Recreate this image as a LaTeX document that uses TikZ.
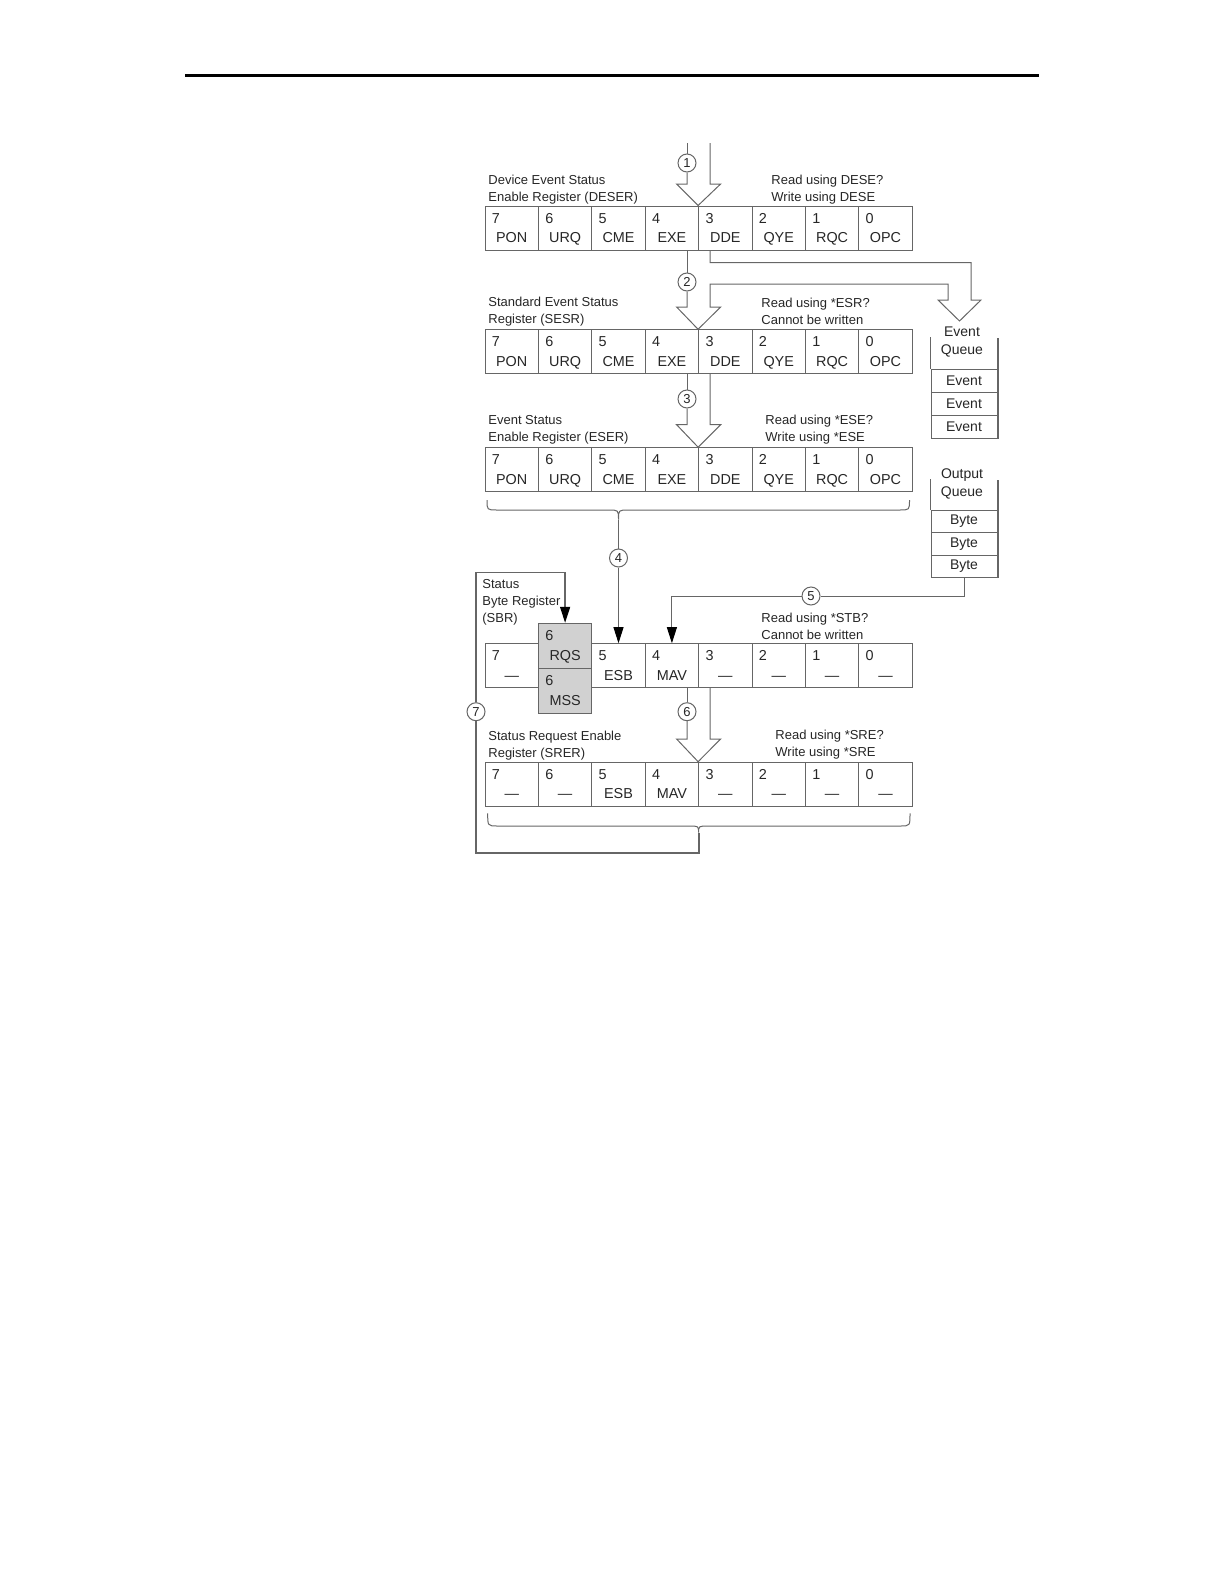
\documentclass[tikz,border=0pt]{standalone}
\usepackage{fontspec}
\setmainfont{Liberation Sans}
\usetikzlibrary{arrows.meta}

\begin{document}
\begin{tikzpicture}[x=0.5pt,y=-0.5pt]
                \tikzstyle{every node}+=[inner sep=0pt, text=black!85]
                \tikzstyle{cell}=[draw=black!60, line width=0.5pt, minimum width=26.7pt, minimum height=22pt, text height=14.7pt, text depth=0pt, font=\fontsize{7.2}{8}\selectfont]
                \tikzstyle{sbit}=[cell, fill=black!18, minimum height=22.5pt]
                \tikzstyle{bitno}=[anchor=north west, xshift=3.5pt, yshift=-3.6pt, font=\fontsize{7.2}{8}\selectfont]
                \tikzstyle{capt}=[anchor=west, align=left, font=\fontsize{6.5}{8.5}\selectfont]
                \tikzstyle{num}=[circle, draw=black!60, line width=0.5pt, fill=white, minimum size=9pt, font=\fontsize{6.5}{7}\selectfont]
                \tikzstyle{qrow}=[draw=black!60, line width=0.5pt, minimum width=33pt, minimum height=11.5pt, font=\fontsize{7}{8}\selectfont]
                \tikzstyle{qhead}=[align=center, font=\fontsize{7}{8.8}\selectfont]
                \tikzstyle{wire}=[draw=black!60, line width=0.5pt]
                \tikzstyle{ptr}=[wire, -{Triangle[length=8pt,width=5pt,color=black]}]
                \useasboundingbox (0,0) rectangle (1224,1584);
                \draw [line width=1.5pt] (185,76) -- (1039,76);
                % DESER
                \node[cell] (de7) at (511.7,228) {PON}; \node[bitno] at (de7.north west) {7};
                \node[cell] (de6) at (565.1,228) {URQ}; \node[bitno] at (de6.north west) {6};
                \node[cell] (de5) at (618.5,228) {CME}; \node[bitno] at (de5.north west) {5};
                \node[cell] (de4) at (671.9,228) {EXE}; \node[bitno] at (de4.north west) {4};
                \node[cell] (de3) at (725.3,228) {DDE}; \node[bitno] at (de3.north west) {3};
                \node[cell] (de2) at (778.7,228) {QYE}; \node[bitno] at (de2.north west) {2};
                \node[cell] (de1) at (832.1,228) {RQC}; \node[bitno] at (de1.north west) {1};
                \node[cell] (de0) at (885.5,228) {OPC}; \node[bitno] at (de0.north west) {0};
                \node[capt] (deserl) at (488,190) {Device Event Status\\Enable Register (DESER)};
                \node[capt] (deserr) at (771,190) {Read using DESE?\\Write using DESE};
                % SESR
                \node[cell] (se7) at (511.7,351.8) {PON}; \node[bitno] at (se7.north west) {7};
                \node[cell] (se6) at (565.1,351.8) {URQ}; \node[bitno] at (se6.north west) {6};
                \node[cell] (se5) at (618.5,351.8) {CME}; \node[bitno] at (se5.north west) {5};
                \node[cell] (se4) at (671.9,351.8) {EXE}; \node[bitno] at (se4.north west) {4};
                \node[cell] (se3) at (725.3,351.8) {DDE}; \node[bitno] at (se3.north west) {3};
                \node[cell] (se2) at (778.7,351.8) {QYE}; \node[bitno] at (se2.north west) {2};
                \node[cell] (se1) at (832.1,351.8) {RQC}; \node[bitno] at (se1.north west) {1};
                \node[cell] (se0) at (885.5,351.8) {OPC}; \node[bitno] at (se0.north west) {0};
                \node[capt] (sesrl) at (488,311.5) {Standard Event Status\\Register (SESR)};
                \node[capt] (sesrr) at (761,311.5) {Read using *ESR?\\Cannot be written};
                % ESER
                \node[cell] (es7) at (511.7,469.7) {PON}; \node[bitno] at (es7.north west) {7};
                \node[cell] (es6) at (565.1,469.7) {URQ}; \node[bitno] at (es6.north west) {6};
                \node[cell] (es5) at (618.5,469.7) {CME}; \node[bitno] at (es5.north west) {5};
                \node[cell] (es4) at (671.9,469.7) {EXE}; \node[bitno] at (es4.north west) {4};
                \node[cell] (es3) at (725.3,469.7) {DDE}; \node[bitno] at (es3.north west) {3};
                \node[cell] (es2) at (778.7,469.7) {QYE}; \node[bitno] at (es2.north west) {2};
                \node[cell] (es1) at (832.1,469.7) {RQC}; \node[bitno] at (es1.north west) {1};
                \node[cell] (es0) at (885.5,469.7) {OPC}; \node[bitno] at (es0.north west) {0};
                \node[capt] (eserl) at (488,430) {Event Status\\Enable Register (ESER)};
                \node[capt] (eserr) at (765,430) {Read using *ESE?\\Write using *ESE};
                % SBR
                \node[cell] (sb7) at (511.7,665.7) {—}; \node[bitno] at (sb7.north west) {7};
                \node[cell] (sb5) at (618.5,665.7) {ESB}; \node[bitno] at (sb5.north west) {5};
                \node[cell] (sb4) at (671.9,665.7) {MAV}; \node[bitno] at (sb4.north west) {4};
                \node[cell] (sb3) at (725.3,665.7) {—}; \node[bitno] at (sb3.north west) {3};
                \node[cell] (sb2) at (778.7,665.7) {—}; \node[bitno] at (sb2.north west) {2};
                \node[cell] (sb1) at (832.1,665.7) {—}; \node[bitno] at (sb1.north west) {1};
                \node[cell] (sb0) at (885.5,665.7) {—}; \node[bitno] at (sb0.north west) {0};
                \node[sbit] (rqs) at (565.1,645.8) {RQS}; \node[bitno] at (rqs.north west) {6};
                \node[sbit] (mss) at (565.1,690.8) {MSS}; \node[bitno] at (mss.north west) {6};
                \node[capt] (sbrl) at (482,602) {Status\\Byte Register\\(SBR)};
                \node[capt] (sbrr) at (761,626.7) {Read using *STB?\\Cannot be written};
                % SRER
                \node[cell] (sr7) at (511.7,784.2) {—}; \node[bitno] at (sr7.north west) {7};
                \node[cell] (sr6) at (565.1,784.2) {—}; \node[bitno] at (sr6.north west) {6};
                \node[cell] (sr5) at (618.5,784.2) {ESB}; \node[bitno] at (sr5.north west) {5};
                \node[cell] (sr4) at (671.9,784.2) {MAV}; \node[bitno] at (sr4.north west) {4};
                \node[cell] (sr3) at (725.3,784.2) {—}; \node[bitno] at (sr3.north west) {3};
                \node[cell] (sr2) at (778.7,784.2) {—}; \node[bitno] at (sr2.north west) {2};
                \node[cell] (sr1) at (832.1,784.2) {—}; \node[bitno] at (sr1.north west) {1};
                \node[cell] (sr0) at (885.5,784.2) {—}; \node[bitno] at (sr0.north west) {0};
                \node[capt] (srerl) at (488,746) {Status Request Enable\\Register (SRER)};
                \node[capt] (srerr) at (775,744.6) {Read using *SRE?\\Write using *SRE};
                % queues
                \node[qhead] (evq) at (962,342) {Event\\Queue};
                \node[qrow] (ev1) at (964,380.5) {Event};
                \node[qrow] (ev2) at (964,403.5) {Event};
                \node[qrow] (ev3) at (964,426.5) {Event};
                \draw [wire] (ev1.north west) -- ++(0,-32);
                \draw [wire, line width=1pt] (ev3.south east) -- ++(0,-101);
                \node[qhead] (outq) at (962,484) {Output\\Queue};
                \node[qrow, minimum height=11.25pt] (ob1) at (964,521.25) {Byte};
                \node[qrow, minimum height=11.25pt] (ob2) at (964,543.75) {Byte};
                \node[qrow, minimum height=11.25pt] (ob3) at (964,566.25) {Byte};
                \draw [wire] (ob1.north west) -- ++(0,-31);
                \draw [wire, line width=1pt] (ob3.south east) -- ++(0,-98.5);
                % numbered steps
                \node[num] (n1) at (687,163) {1};
                \node[num] (n2) at (687,282) {2};
                \node[num] (n3) at (687,399) {3};
                \node[num] (n4) at (618.5,558) {4};
                \node[num] (n5) at (811,596) {5};
                \node[num] (n6) at (687,711.7) {6};
                \node[num] (n7) at (476,711.7) {7};
                \coordinate (eqtip) at (959.5,321);
                \coordinate (b4) at (618.5,519.5);
                \coordinate (b7) at (698.6,832.7);
                % hollow arrows
                \draw [wire] (687,143) -- (n1);
                \draw [wire] (n1) -- (687,184) -- (676.6,184) -- (de3.north west) -- (720.6,184) -- (710.2,184) -- (710.2,143);
                \draw [wire] (687,250) -- (n2);
                \draw [wire] (n2) -- (687,307) -- (676.6,307) -- (se3.north west) -- (720.6,307) -- (710.2,307) -- (710.2,284) -- (948,284) -- (948,300) -- (938,300) -- (eqtip) -- (981,300) -- (971,300) -- (971,262.7) -- (710.2,262.7) -- (710.2,250);
                \draw [wire] (687,373.8) -- (n3);
                \draw [wire] (n3) -- (687,424.7) -- (676.6,424.7) -- (es3.north west) -- (720.6,424.7) -- (710.2,424.7) -- (710.2,373.8);
                \draw [wire] (687,687.7) -- (n6);
                \draw [wire] (n6) -- (687,739) -- (676.6,739) -- (sr3.north west) -- (720.6,739) -- (710.2,739) -- (710.2,687.7);
                % braces and pointers
                \draw [wire] (487,500) .. controls (487,510) .. (497,510) -- (608.5,510) .. controls (618.5,510) .. (b4) .. controls (618.5,510) .. (628.5,510) -- (899.5,510) .. controls (909.5,510) .. (909.5,500);
                \draw [wire] (b4) -- (n4);
                \draw [ptr] (n4) -- (sb5.north);
                \draw [wire] (ob3.south) |- (n5);
                \draw [ptr] (n5) -| (sb4.north);
                \draw [wire] (487.7,813.3) .. controls (487.7,826) .. (497.7,826) -- (688.6,826) .. controls (698.6,826) .. (b7) .. controls (698.6,826) .. (708.6,826) -- (900,826) .. controls (910,826) .. (910,813.3);
                \draw [wire, line width=0.9pt] (b7) -- (698.6,852.7) -- (476,852.7) -- (n7);
                \draw [ptr, line width=0.7pt] (n7) -- (476,572.3) -- (565.1,572.3) -- (rqs.north);
            \end{tikzpicture}
\end{document}
